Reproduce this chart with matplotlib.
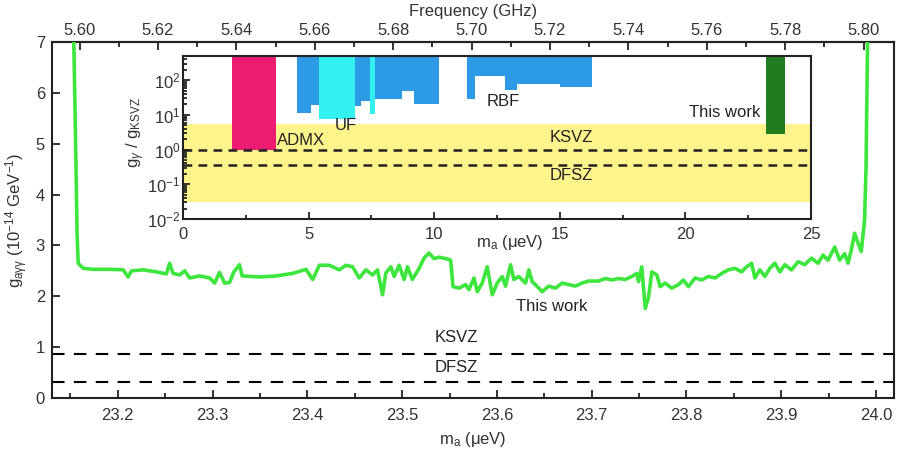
import matplotlib
matplotlib.use("Agg")
import matplotlib.pyplot as plt
from matplotlib.ticker import MultipleLocator, LogLocator, NullFormatter, FixedLocator

plt.rcParams["font.family"] = ["Liberation Sans", "DejaVu Sans"]
plt.rcParams["mathtext.fontset"] = "custom"
plt.rcParams["mathtext.rm"] = "Liberation Sans"
plt.rcParams["mathtext.it"] = "Liberation Sans:italic"
plt.rcParams["font.size"] = 12

# ------------------------------------------------------------
# Dados
# ------------------------------------------------------------

# limite medido: massa (ueV) e g_agg (1e-14 GeV^-1)
mass_work = [
    23.153, 23.155, 23.157, 23.1582, 23.1634, 23.1740, 23.1916, 23.2056,
    23.2108, 23.2144, 23.2266, 23.2407, 23.2512, 23.2547, 23.2582, 23.2652,
    23.2705, 23.2758, 23.2863, 23.2968, 23.3021, 23.3073, 23.3126, 23.3179,
    23.3221, 23.3284, 23.3312, 23.3494, 23.3670, 23.3845, 23.3986, 23.4056,
    23.4126, 23.4231, 23.4337, 23.4407, 23.4477, 23.4547, 23.4618, 23.4688,
    23.4740, 23.4793, 23.4828, 23.4881, 23.4916, 23.4968, 23.5021, 23.5056,
    23.5108, 23.5179, 23.5231, 23.5284, 23.5337, 23.5389, 23.5460, 23.5512,
    23.5537, 23.5600, 23.5670, 23.5705, 23.5758, 23.5793, 23.5845, 23.5898,
    23.5951, 23.6003, 23.6056, 23.6091, 23.6144, 23.6179, 23.6231, 23.6302,
    23.6337, 23.6372, 23.6442, 23.6477, 23.6547, 23.6618, 23.6688, 23.6758,
    23.6828, 23.6898, 23.6968, 23.7074, 23.7144, 23.7214, 23.7284, 23.7354,
    23.7424, 23.7477, 23.7494, 23.7529, 23.7565, 23.7600, 23.7635, 23.7687,
    23.7723, 23.7775, 23.7845, 23.7916, 23.7968, 23.8021, 23.8091, 23.8161,
    23.8231, 23.8302, 23.8372, 23.8442, 23.8512, 23.8582, 23.8635, 23.8687,
    23.8723, 23.8775, 23.8828, 23.8880, 23.8933, 23.8986, 23.9038, 23.9108,
    23.9179, 23.9249, 23.9319, 23.9389, 23.9442, 23.9494, 23.9565, 23.9617,
    23.9670, 23.9705, 23.9740, 23.9775, 23.9810, 23.9845, 23.9880, 23.9895,
    23.9905, 23.9915,
]
g_work = [
    7.5, 5.5, 3.2, 2.65, 2.55, 2.53, 2.53, 2.52,
    2.38, 2.50, 2.52, 2.48, 2.44, 2.65, 2.45, 2.42,
    2.50, 2.36, 2.40, 2.36, 2.26, 2.47, 2.26, 2.27,
    2.47, 2.62, 2.40, 2.38, 2.40, 2.45, 2.53, 2.33,
    2.61, 2.61, 2.52, 2.61, 2.58, 2.36, 2.52, 2.42,
    2.52, 2.03, 2.46, 2.58, 2.39, 2.61, 2.33, 2.58,
    2.33, 2.55, 2.75, 2.85, 2.74, 2.77, 2.74, 2.71,
    2.19, 2.16, 2.23, 2.13, 2.36, 2.09, 2.26, 2.58,
    2.03, 2.26, 2.39, 2.20, 2.62, 2.33, 2.39, 2.26,
    2.52, 2.29, 2.16, 2.09, 2.20, 2.16, 2.26, 2.23,
    2.20, 2.26, 2.30, 2.30, 2.35, 2.32, 2.35, 2.33,
    2.39, 2.45, 2.29, 2.58, 1.76, 1.98, 2.48, 2.42,
    2.19, 2.26, 2.16, 2.23, 2.32, 2.19, 2.36, 2.32,
    2.39, 2.36, 2.45, 2.52, 2.55, 2.48, 2.58, 2.65,
    2.36, 2.52, 2.39, 2.55, 2.65, 2.48, 2.62, 2.52,
    2.68, 2.62, 2.75, 2.65, 2.81, 2.71, 2.97, 2.71,
    2.84, 2.65, 2.91, 3.24, 3.05, 2.88, 3.50, 4.5,
    6.0, 7.5,
]

g_ksvz = 0.87
g_dfsz = 0.31

mass_ticks = [23.2, 23.3, 23.4, 23.5, 23.6, 23.7, 23.8, 23.9, 24.0]
freq_ticks = [5.60, 5.62, 5.64, 5.66, 5.68, 5.70, 5.72, 5.74, 5.76, 5.78, 5.80]

# painel interno: limites relativos a g_KSVZ
ratio_ksvz = 1.0
ratio_dfsz = 0.37
band_low, band_high = 0.03, 5.4
ratio_top = 500

admx_x0 = [1.94]
admx_x1 = [3.69]
admx_bottom = [1.0]

uf_x0 = [5.43, 7.43]
uf_x1 = [6.83, 7.63]
uf_bottom = [7.6, 10.5]

rbf_x0 = [4.53, 5.09, 6.83, 7.10, 7.63, 8.72, 9.21,
          11.30, 11.63, 12.83, 13.30, 15.00]
rbf_x1 = [5.09, 5.43, 7.10, 7.43, 8.72, 9.21, 10.18,
          11.63, 12.83, 13.30, 15.00, 16.30]
rbf_bottom = [11.7, 19, 18, 26, 28, 49, 20,
              28, 130, 54, 80, 62]

this_x0 = [23.19, 23.55]
this_x1 = [23.55, 23.98]
this_bottom = [2.8, 2.8]

GHZ_PER_UEV = 0.241799


def m_to_f(m):
    return m * GHZ_PER_UEV


def f_to_m(f):
    return f / GHZ_PER_UEV


def draw_blocks(ax, x0, x1, bottom, color, top=ratio_top, **kw):
    widths = [b - a for a, b in zip(x0, x1)]
    heights = [top - b for b in bottom]
    ax.bar(x0, heights, width=widths, bottom=bottom, align="edge",
           color=color, linewidth=0, **kw)


def style_spines(ax):
    for sp in ax.spines.values():
        sp.set_linewidth(1.5)
        sp.set_color("#222222")


# ------------------------------------------------------------
# Figura principal
# ------------------------------------------------------------

fig = plt.figure(figsize=(8.98, 4.53), dpi=100)
ax = fig.add_axes([0.0579, 0.1214, 0.9376, 0.7859])

ax.plot(mass_work, g_work, color="#3de63d", lw=2.6, zorder=3,
        solid_joinstyle="round")
ax.axhline(g_ksvz, color="black", lw=1.5, dashes=(6, 4.5), zorder=2)
ax.axhline(g_dfsz, color="black", lw=1.5, dashes=(6, 4.5), zorder=2)

ax.text(23.534, 1.18, "KSVZ", ha="left", va="center", color="#222222")
ax.text(23.534, 0.59, "DFSZ", ha="left", va="center", color="#222222")
ax.text(23.620, 1.79, "This work", ha="left", va="center", color="#222222")

ax.set_xlim(23.1305, 24.019)
ax.set_ylim(0, 7)
ax.set_xticks(mass_ticks)
ax.set_xticklabels([f"{t:.1f}" for t in mass_ticks])
ax.xaxis.set_minor_locator(MultipleLocator(0.05))
ax.yaxis.set_major_locator(MultipleLocator(1))
ax.tick_params(which="both", direction="in", width=1.3, color="#222222")
ax.tick_params(which="major", length=6)
ax.tick_params(which="minor", length=3.5)
ax.tick_params(axis="x", pad=7, labelcolor="#333333")
ax.tick_params(axis="y", pad=5, labelcolor="#333333")
style_spines(ax)

ax.set_xlabel("m$_{\\rm a}$ (μeV)", labelpad=5, color="#333333")
ax.set_ylabel(r"g$_{\rm a\gamma\gamma}$ (10$^{-14}$ GeV$^{-1}$)",
              labelpad=4, color="#333333")

top = ax.secondary_xaxis("top", functions=(m_to_f, f_to_m))
top.xaxis.set_major_locator(FixedLocator(freq_ticks))
top.xaxis.set_minor_locator(
    FixedLocator([round(5.59 + 0.01 * i, 2) for i in range(23)]))
top.xaxis.set_major_formatter(matplotlib.ticker.FixedFormatter(
    [f"{t:.2f}" for t in freq_ticks]))
top.xaxis.set_minor_formatter(NullFormatter())
top.tick_params(which="both", direction="in", width=1.3, color="#222222",
                labelcolor="#333333", pad=3)
top.tick_params(which="major", length=6)
top.tick_params(which="minor", length=3.5)
top.spines["top"].set_linewidth(1.5)
top.set_xlabel("Frequency (GHz)", labelpad=5, color="#333333")

# ------------------------------------------------------------
# Painel interno
# ------------------------------------------------------------

ins = fig.add_axes([0.2038, 0.5166, 0.6993, 0.3598])
ins.set_facecolor("white")
ins.set_zorder(5)

ins.axhspan(band_low, band_high, color="#fdf48c", lw=0, zorder=1)
draw_blocks(ins, admx_x0, admx_x1, admx_bottom, "#eb1c72", zorder=2)
draw_blocks(ins, rbf_x0, rbf_x1, rbf_bottom, "#2d9ae6", zorder=2)
draw_blocks(ins, uf_x0, uf_x1, uf_bottom, "#35f0f0", zorder=2.5)
draw_blocks(ins, this_x0, this_x1, this_bottom, "#1f7d1f", zorder=2,
            edgecolor="#3b9b3b")
ins.axhline(ratio_ksvz, color="#222222", lw=1.8, dashes=(3.5, 2.5), zorder=3)
ins.axhline(ratio_dfsz, color="#222222", lw=1.8, dashes=(3.5, 2.5), zorder=3)

ins.text(3.75, 1.8, "ADMX", ha="left", va="center", color="#222222")
ins.text(6.05, 4.8, "UF", ha="left", va="center", color="#222222")
ins.text(12.1, 25, "RBF", ha="left", va="center", color="#222222")
ins.text(23.0, 11.6, "This work", ha="right", va="center", color="#222222")
ins.text(14.6, 2.2, "KSVZ", ha="left", va="center", color="#222222")
ins.text(14.6, 0.18, "DFSZ", ha="left", va="center", color="#222222")

ins.set_xlim(0, 25)
ins.set_yscale("log")
ins.set_ylim(0.01, ratio_top)
ins.xaxis.set_major_locator(MultipleLocator(5))
ins.xaxis.set_minor_locator(MultipleLocator(2.5))
ins.yaxis.set_major_locator(LogLocator(base=10, numticks=10))
ins.yaxis.set_minor_locator(LogLocator(base=10, subs=range(2, 10), numticks=10))
ins.yaxis.set_minor_formatter(NullFormatter())
ins.tick_params(which="both", direction="in", width=1.3, color="#222222",
                labelcolor="#333333")
ins.tick_params(which="major", length=5)
ins.tick_params(which="minor", length=3)
ins.tick_params(axis="x", pad=6)
ins.tick_params(axis="y", pad=2)
style_spines(ins)

ins.set_xlabel("m$_{\\rm a}$ (μeV)", color="#333333")
ins.xaxis.set_label_coords(0.52, -0.085)
ins.set_ylabel(r"g$_{\gamma}$ / g$_{\rm KSVZ}$", color="#333333")
ins.yaxis.set_label_coords(-0.058, 0.53)

fig.savefig("out.png", dpi=100)
